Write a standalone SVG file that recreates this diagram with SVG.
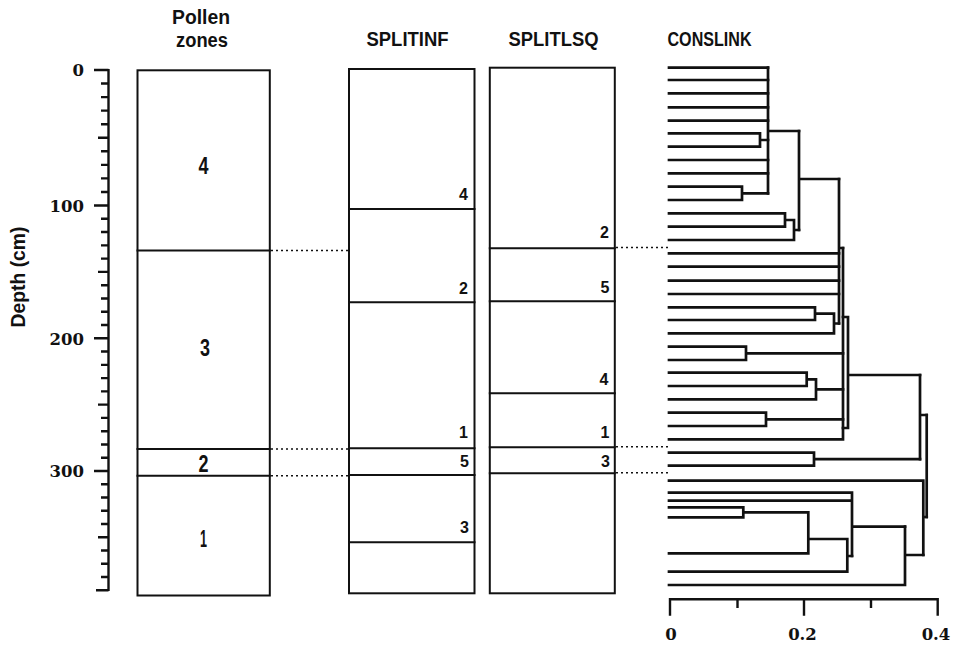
<svg xmlns="http://www.w3.org/2000/svg" width="955" height="645" viewBox="0 0 955 645">
<style>
.ln{fill:none;stroke:#111;stroke-width:2;stroke-linecap:square}
.dn{fill:none;stroke:#111;stroke-width:2.7;stroke-linecap:square;stroke-linejoin:miter}
.ax{fill:none;stroke:#111;stroke-width:2.4}
.dot{fill:none;stroke:#111;stroke-width:1.6;stroke-dasharray:2 3}
.tt{font-family:"Liberation Sans",Arial,sans-serif;font-weight:bold;font-size:20px;fill:#111;text-anchor:middle}
.zn{font-family:"Liberation Sans",Arial,sans-serif;font-weight:bold;font-size:23px;fill:#111;text-anchor:middle}
.sn{font-family:"Liberation Sans",Arial,sans-serif;font-weight:bold;font-size:16px;fill:#111;text-anchor:end}
.nm{font-family:"DejaVu Serif","Liberation Serif",serif;font-weight:bold;font-size:16.5px;fill:#111}
</style>
<rect width="955" height="645" fill="#fff"/>

<g id="depth-axis">
<text class="tt" transform="translate(24.5,277) rotate(-90)" font-size="18.5" textLength="101" lengthAdjust="spacingAndGlyphs">Depth (cm)</text>
<path class="ax" d="M108.5 69V591"/>
<path class="ax" d="M94 70H108.5M94 205.5H108.5M94 338.3H108.5M94 471H108.5M96 590.25H108.5"/>
<path class="ax" d="M98 137.75H108.5M98 271.9H108.5M98 404.65H108.5M98 537.25H108.5"/>
<path class="ax" d="M101 83.55H108.5M101 97.1H108.5M101 110.65H108.5M101 124.2H108.5M101 151.3H108.5M101 164.85H108.5M101 178.4H108.5M101 191.95H108.5M101 218.78H108.5M101 232.06H108.5M101 245.34H108.5M101 258.62H108.5M101 285.18H108.5M101 298.46H108.5M101 311.74H108.5M101 325.02H108.5M101 351.57H108.5M101 364.84H108.5M101 378.11H108.5M101 391.38H108.5M101 417.92H108.5M101 431.19H108.5M101 444.46H108.5M101 457.73H108.5M101 484.25H108.5M101 497.5H108.5M101 510.75H108.5M101 524H108.5M101 550.5H108.5M101 563.75H108.5M101 577H108.5"/>
<text class="nm" x="84" y="76" text-anchor="end">0</text>
<text class="nm" x="84" y="212" text-anchor="end">100</text>
<text class="nm" x="84" y="345" text-anchor="end">200</text>
<text class="nm" x="84" y="477" text-anchor="end">300</text>
</g>

<g id="pollen-zones">
<text class="tt" x="201" y="23.5" textLength="58" lengthAdjust="spacingAndGlyphs">Pollen</text>
<text class="tt" x="202" y="46.5" textLength="52" lengthAdjust="spacingAndGlyphs">zones</text>
<rect class="ln" x="137.5" y="70.3" width="132.3" height="525.2"/>
<path class="ln" d="M137.5 250.5H269.8M137.5 449H269.8M137.5 475.7H269.8"/>
<text class="zn" x="203.5" y="173.5" textLength="10" lengthAdjust="spacingAndGlyphs">4</text>
<text class="zn" x="205" y="355.5" textLength="10" lengthAdjust="spacingAndGlyphs">3</text>
<text class="zn" x="203.5" y="471.5" textLength="10" lengthAdjust="spacingAndGlyphs">2</text>
<text class="zn" x="203.5" y="546.5" textLength="7" lengthAdjust="spacingAndGlyphs">1</text>
</g>

<g id="splitinf">
<text class="tt" x="407.5" y="46" textLength="82" lengthAdjust="spacingAndGlyphs">SPLITINF</text>
<rect class="ln" x="349" y="69" width="125.5" height="524.3"/>
<path class="ln" d="M349 209H474.5M349 302.3H474.5M349 448.3H474.5M349 475H474.5M349 542.3H474.5"/>
<text class="sn" x="468" y="200">4</text>
<text class="sn" x="468" y="294">2</text>
<text class="sn" x="468" y="438">1</text>
<text class="sn" x="469" y="466.5">5</text>
<text class="sn" x="469" y="533">3</text>
</g>

<g id="splitlsq">
<text class="tt" x="553.5" y="46" textLength="90" lengthAdjust="spacingAndGlyphs">SPLITLSQ</text>
<rect class="ln" x="489.8" y="67.7" width="125" height="525.6"/>
<path class="ln" d="M489.8 248.3H614.8M489.8 301.3H614.8M489.8 393.3H614.8M489.8 447.3H614.8M489.8 473.3H614.8"/>
<text class="sn" x="609" y="238">2</text>
<text class="sn" x="609.5" y="293">5</text>
<text class="sn" x="608.5" y="385">4</text>
<text class="sn" x="609.5" y="438">1</text>
<text class="sn" x="610" y="466.5">3</text>
</g>

<g id="conslink">
<text class="tt" x="709.5" y="46" textLength="84" lengthAdjust="spacingAndGlyphs">CONSLINK</text>
<path class="dn" d="M669 67.7H768M669 80H768M669 93.3H768M669 107.3H768M669 120.7H768M669 160H768M669 173.3H768"/>
<path class="dn" d="M669 133.3H760V146.7H669M760 140H768"/>
<path class="dn" d="M669 186.7H742V200H669M742 193.3H768"/>
<path class="dn" d="M768 67.7V193.3M768 131H799"/>
<path class="dn" d="M669 213.3H785V226.7H669M785 220H794M669 240H794V220M794 230H799"/>
<path class="dn" d="M799 131V230M799 179H839"/>
<path class="dn" d="M669 253.3H839M669 266.7H839M669 280.7H839M669 294H839"/>
<path class="dn" d="M669 307.3H815V320H669M815 313.7H834M669 333.3H834V313.7M834 323.5H839"/>
<path class="dn" d="M839 179V323.5M839 248H843"/>
<path class="dn" d="M669 346.7H746V360H669M746 353.3H843"/>
<path class="dn" d="M669 372.7H806.7V386H669M806.7 379.3H816M669 399.3H816V379.3M816 389.3H843"/>
<path class="dn" d="M669 412.7H766V426H669M766 419.3H843"/>
<path class="dn" d="M669 439.3H843V248"/>
<path class="dn" d="M843 317H848V428H843M848 375H920"/>
<path class="dn" d="M669 452.7H814V465.7H669M814 459.2H920"/>
<path class="dn" d="M920 375V459.2M920 415H926.7"/>
<path class="dn" d="M669 507.3H743.3V517.3H669M743.3 512.3H808.3M669 553.3H808.3V512.3M808.3 539H847.3M669 571.7H847.3V539M847.3 556H852"/>
<path class="dn" d="M669 492.7H852M669 500.7H852M852 492.7V556M852 526.7H905"/>
<path class="dn" d="M669 585H905V526.7M905 555H923.3"/>
<path class="dn" d="M669 480.7H923.3V555M923.3 517H926.7"/>
<path class="dn" d="M926.7 415V517"/>
<path class="ax" d="M670 599.3H937.7M670 598V615.7M804 599.3V615.7M937.7 598V615.7M737.5 599.3V608M871 599.3V608"/>
<text class="nm" x="671" y="640" text-anchor="middle">0</text>
<text class="nm" x="802.5" y="640" text-anchor="middle">0.2</text>
<text class="nm" x="936" y="640" text-anchor="middle">0.4</text>
</g>

<g id="connectors">
<path class="dot" d="M271 250.5H348"/>
<path class="dot" d="M271 449H348"/>
<path class="dot" d="M271 475.7H348"/>
<path class="dot" d="M616 247.5H668"/>
<path class="dot" d="M616 446.8H668"/>
<path class="dot" d="M616 472.7H668"/>
</g>
</svg>
